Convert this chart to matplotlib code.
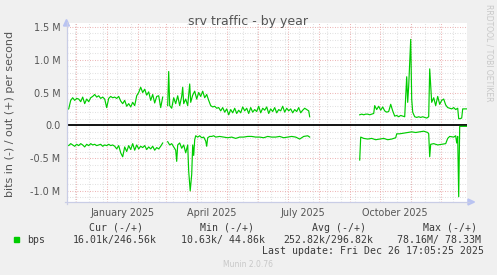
import numpy as np
import matplotlib
matplotlib.use("Agg")
import matplotlib.pyplot as plt
from matplotlib.transforms import blended_transform_factory
from matplotlib.patches import Polygon, Rectangle
from matplotlib.lines import Line2D

# ---------------- data (x = days since 2024-12-01, y = Mbit/s) ----------------
BASE = np.datetime64("2024-12-01")

out_days_1 = [-9, -7, -5, -3, -1, 1, 3, 5, 7, 9, 11, 13, 15, 17, 19, 21, 23, 25, 27, 29,
              31, 33, 35, 37, 39, 41, 43, 45, 47, 49, 51, 53, 55, 57, 59, 61, 63, 65, 67, 69,
              71, 73, 75, 77, 79, 81, 83, 85, 87]
out_vals_1 = [0.24, 0.25, 0.38, 0.42, 0.38, 0.41, 0.40, 0.36, 0.43, 0.33, 0.40, 0.36, 0.42, 0.44,
              0.47, 0.43, 0.45, 0.41, 0.43, 0.40, 0.27, 0.41, 0.44, 0.42, 0.43, 0.41, 0.44, 0.37,
              0.33, 0.38, 0.29, 0.33, 0.28, 0.35, 0.30, 0.45, 0.50, 0.58, 0.50, 0.55, 0.46, 0.51,
              0.38, 0.47, 0.34, 0.44, 0.45, 0.27, 0.43]

out_days_2 = [92, 93, 94, 96, 98, 100, 102, 104, 106, 107, 108, 110, 112, 114, 115, 117, 119, 121,
              123, 125, 127, 129, 131, 133, 135, 137, 139, 141, 143, 145, 147, 149, 151, 153, 155,
              157, 159, 161, 163, 165, 167, 169, 171, 173, 175, 177, 179, 181, 183, 185, 187, 189,
              191, 193, 195, 197, 199, 201, 203, 205, 207, 209, 211, 213, 215, 217, 219, 221, 223,
              225, 227, 229, 231, 233, 234]
out_vals_2 = [0.30, 0.82, 0.30, 0.26, 0.42, 0.33, 0.45, 0.30, 0.44, 0.58, 0.33, 0.40, 0.30, 0.63,
              0.35, 0.46, 0.52, 0.40, 0.50, 0.44, 0.52, 0.42, 0.47, 0.38, 0.30, 0.28, 0.29, 0.26,
              0.27, 0.22, 0.27, 0.20, 0.25, 0.16, 0.24, 0.19, 0.26, 0.18, 0.23, 0.19, 0.28, 0.22,
              0.26, 0.18, 0.27, 0.20, 0.24, 0.21, 0.29, 0.19, 0.26, 0.23, 0.28, 0.18, 0.25, 0.21,
              0.27, 0.19, 0.24, 0.22, 0.29, 0.20, 0.26, 0.22, 0.25, 0.19, 0.24, 0.21, 0.27, 0.19,
              0.23, 0.26, 0.24, 0.22, 0.13]

out_days_3 = [284, 286, 288, 290, 292, 294, 296, 298, 299, 301, 303, 305, 307, 309, 311, 313, 315,
              317, 319, 321, 323, 325, 327, 329, 331, 332, 333, 335, 336, 337, 339, 341, 343, 345,
              347, 349, 351, 353, 354, 356, 358, 360, 362, 364, 366, 368, 370, 372, 374, 376, 378,
              380, 382, 383, 384, 386, 387, 389, 391]
out_vals_3 = [0.16, 0.17, 0.16, 0.17, 0.17, 0.16, 0.17, 0.18, 0.30, 0.24, 0.29, 0.23, 0.28, 0.22,
              0.20, 0.21, 0.32, 0.22, 0.14, 0.15, 0.13, 0.15, 0.14, 0.13, 0.74, 0.35, 0.60, 1.31,
              0.40, 0.20, 0.13, 0.12, 0.13, 0.12, 0.13, 0.12, 0.11, 0.13, 0.86, 0.35, 0.42, 0.30,
              0.44, 0.32, 0.38, 0.40, 0.31, 0.27, 0.26, 0.25, 0.27, 0.24, 0.26, 0.10, 0.10, 0.11,
              0.25, 0.25, 0.25]

in_days_1 = out_days_1
in_vals_1 = [-0.30, -0.31, -0.28, -0.30, -0.32, -0.29, -0.31, -0.28, -0.30, -0.33, -0.29, -0.31,
             -0.28, -0.30, -0.29, -0.31, -0.30, -0.29, -0.32, -0.30, -0.31, -0.29, -0.31, -0.30,
             -0.32, -0.36, -0.31, -0.42, -0.48, -0.33, -0.40, -0.31, -0.37, -0.28, -0.38, -0.30,
             -0.36, -0.32, -0.34, -0.31, -0.37, -0.33, -0.36, -0.32, -0.38, -0.34, -0.36, -0.32,
             -0.27]

in_days_2 = [92, 94, 96, 98, 100, 101, 102, 104, 106, 108, 110, 112, 113, 114.5, 116, 117, 118,
             119, 120, 122, 124, 126, 128, 130, 131, 132, 134, 136, 138, 140, 144, 148, 152, 156,
             160, 164, 168, 172, 176, 180, 184, 188, 192, 196, 200, 204, 208, 212, 216, 220, 224,
             228, 232, 234]
in_vals_2 = [-0.25, -0.30, -0.28, -0.33, -0.38, -0.55, -0.30, -0.27, -0.35, -0.30, -0.42, -0.30,
             -0.70, -1.00, -0.75, -0.30, -0.46, -0.22, -0.16, -0.18, -0.16, -0.19, -0.18, -0.24,
             -0.32, -0.19, -0.17, -0.17, -0.16, -0.18, -0.17, -0.18, -0.19, -0.18, -0.20, -0.18,
             -0.18, -0.17, -0.17, -0.18, -0.18, -0.19, -0.17, -0.18, -0.18, -0.17, -0.19, -0.18,
             -0.17, -0.18, -0.21, -0.17, -0.16, -0.18]

in_days_3 = [284, 285, 288, 292, 296, 300, 304, 308, 312, 316, 320, 321, 324, 328, 332, 336, 340,
             344, 348, 352, 353, 354, 355, 358, 362, 366, 370, 372, 374, 378, 380, 381, 382, 383,
             384, 388, 391]
in_vals_3 = [-0.53, -0.18, -0.20, -0.21, -0.20, -0.22, -0.21, -0.20, -0.22, -0.21, -0.19, -0.13,
             -0.13, -0.12, -0.11, -0.10, -0.11, -0.10, -0.09, -0.11, -0.13, -0.48, -0.29, -0.28,
             -0.30, -0.29, -0.28, -0.20, -0.17, -0.18, -0.16, -0.27, -0.17, -1.09, -0.016, -0.016,
             -0.016]

y_tick_vals = [-1.0, -0.5, 0.0, 0.5, 1.0, 1.5]
y_tick_labels = ["-1.0 M", "-0.5 M", "0.0", "0.5 M", "1.0 M", "1.5 M"]
x_label_months = ["2025-01", "2025-04", "2025-07", "2025-10"]
x_labels = ["January 2025", "April 2025", "July 2025", "October 2025"]

legend_headers = ["Cur (-/+)", "Min (-/+)", "Avg (-/+)", "Max (-/+)"]
legend_values = ["16.01k/246.56k", "10.63k/ 44.86k", "252.82k/296.82k", "78.16M/ 78.33M"]
legend_name = "bps"
last_update = "Last update: Fri Dec 26 17:05:25 2025"


def join(*segs):
    xs, ys = [], []
    for i, (d, v) in enumerate(segs):
        assert len(d) == len(v), (i, len(d), len(v))
        if i:
            xs.append(np.nan); ys.append(np.nan)
        xs += list(d); ys += list(v)
    return np.array(xs, float), np.array(ys, float)


out_x, out_y = join((out_days_1, out_vals_1), (out_days_2, out_vals_2), (out_days_3, out_vals_3))
in_x, in_y = join((in_days_1, in_vals_1), (in_days_2, in_vals_2), (in_days_3, in_vals_3))

# ---------------- figure ----------------
W, H = 497, 275
fig = plt.figure(figsize=(W / 100, H / 100), dpi=100, facecolor="#F0F0F0")
L, R, T, B = 66.5, 467.0, 23.0, 202.0
fx = lambda px: px / W
fy = lambda py: 1 - py / H
ax = fig.add_axes([fx(L), fy(B), (R - L) / W, (B - T) / H])
ax.set_facecolor("white")
ax.set_xlim(-9.2, 391.3)
ax.set_ylim(-1.17, 1.56)
for s in ax.spines.values():
    s.set_visible(False)
ax.set_xticks([]); ax.set_yticks([])

GREEN = "#00CC00"
RED_GRID = "#eaa8a8"
GRAY_GRID = "#dcdcdc"
dots = (0, (0.8, 1.6))

# horizontal grid
for k in range(-11, 16):
    v = k / 10
    if k % 5 == 0:
        if k != 0:
            ax.axhline(v, color=RED_GRID, lw=0.75, ls=dots, zorder=2)
    else:
        ax.axhline(v, color=GRAY_GRID, lw=0.75, ls=dots, zorder=1)

# vertical grid
month_starts = np.arange(np.datetime64("2024-12"), np.datetime64("2026-01"), np.timedelta64(1, "M"))
month_days = [(np.datetime64(m, "D") - BASE).astype(float) for m in month_starts]
d = 13.6 - 28
while d < 392:
    if d > -9.2:
        ax.axvline(d, color=GRAY_GRID, lw=0.75, ls=dots, zorder=1)
    d += 14
for md in month_days:
    ax.axvline(md, color=RED_GRID, lw=0.75, ls=dots, zorder=2)

# zero line
ax.axhline(0, color="black", lw=1.3, zorder=3)

# data
ax.plot(out_x, out_y, color=GREEN, lw=0.85, zorder=4)
ax.plot(in_x, in_y, color=GREEN, lw=0.85, zorder=4)

# axis lines + arrows (pixel coordinates)
AX_COL = "#c9cde6"
fig.add_artist(Line2D([fx(L), fx(L)], [fy(B + 2), fy(T - 1)], color=AX_COL, lw=0.9))
fig.add_artist(Line2D([fx(L - 2), fx(R + 2)], [fy(B), fy(B)], color=AX_COL, lw=0.9))
ARW = "#b9c3f2"
fig.add_artist(Polygon([[fx(L - 3), fy(T + 3)], [fx(L + 3), fy(T + 3)], [fx(L), fy(T - 3.5)]],
                       closed=True, color=ARW, transform=fig.transFigure))
fig.add_artist(Polygon([[fx(R + 1), fy(B - 3)], [fx(R + 1), fy(B + 3)], [fx(R + 7.5), fy(B)]],
                       closed=True, color=ARW, transform=fig.transFigure))

TXT = "#555555"
# y tick labels
ytr = blended_transform_factory(fig.transFigure, ax.transData)
for v, lab in zip(y_tick_vals, y_tick_labels):
    ax.text(fx(60.5), v, lab, transform=ytr, ha="right", va="center_baseline",
            fontsize=6.9, color=TXT, family="DejaVu Sans")

# x tick labels (centred on each month)
xtr = blended_transform_factory(ax.transData, fig.transFigure)
for m, lab in zip(x_label_months, x_labels):
    m0 = np.datetime64(m, "D")
    m1 = np.datetime64(np.datetime64(m, "M") + np.timedelta64(1, "M"), "D")
    mid = (m0 - BASE).astype(float) + (m1 - m0).astype(float) / 2
    ax.text(mid, fy(215.5), lab, transform=xtr, ha="center", va="baseline",
            fontsize=6.9, color=TXT, family="DejaVu Sans")

# title, y label, watermark
fig.text(fx(247.7), fy(24.5), "srv traffic - by year", ha="center", va="baseline",
         fontsize=9, color=TXT, family="DejaVu Sans")
fig.text(fx(10.5), fy(114), "bits in (-) / out (+) per second", rotation=90,
         ha="center", va="center", fontsize=8, color=TXT, family="DejaVu Sans")
fig.text(fx(488.5), fy(53), "RRDTOOL / TOBI OETIKER", rotation=270, ha="center", va="center",
         fontsize=5.5, color="#c8c8c8", family="DejaVu Sans")

# legend
MONO = "DejaVu Sans Mono"
LEG = "#3a3a3a"
for x0, s in zip([89, 200, 312, 423], legend_headers):
    fig.text(fx(x0), fy(230.8), s, ha="left", va="baseline", fontsize=7.1, color=LEG, family=MONO)
fig.add_artist(Rectangle((fx(14), fy(242.2)), 5.4 / W, 5.4 / H, color=GREEN,
                         transform=fig.transFigure))
fig.text(fx(26.7), fy(242.6), legend_name, ha="left", va="baseline", fontsize=7.1, color=LEG, family=MONO)
for x0, s in zip([72.7, 180.7, 283, 397], legend_values):
    fig.text(fx(x0), fy(242.6), s, ha="left", va="baseline", fontsize=7.1, color=LEG, family=MONO)
fig.text(fx(261.7), fy(254), last_update, ha="left", va="baseline", fontsize=7.1, color=LEG, family=MONO)
fig.text(fx(248), fy(267), "Munin 2.0.76", ha="center", va="baseline", fontsize=5.5,
         color="#c8c8c8", family="DejaVu Sans")

fig.savefig("out.png", dpi=100, facecolor=fig.get_facecolor())
